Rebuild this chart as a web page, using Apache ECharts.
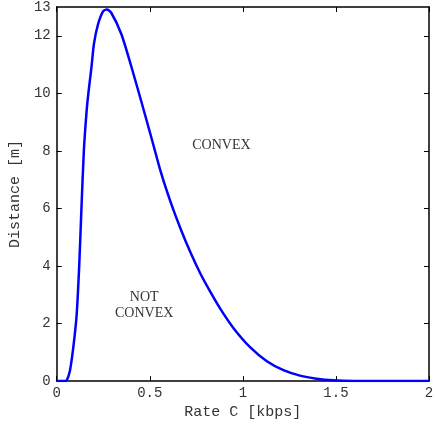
<!DOCTYPE html>
<html>
<head>
<meta charset="utf-8">
<script src="https://cdn.jsdelivr.net/npm/echarts@6/dist/echarts.min.js"></script>
<style>html,body{margin:0;padding:0;background:#fff}#c{width:438px;height:425px}</style>
</head>
<body>
<div id="c"></div>
<script>
// Data
var rateC = [0, 0.04, 0.053, 0.071, 0.089, 0.107, 0.121, 0.133, 0.146, 0.16, 0.17, 0.187, 0.2, 0.222, 0.249, 0.27, 0.293, 0.347, 0.4, 0.453, 0.507, 0.56, 0.613, 0.667, 0.72, 0.773, 0.827, 0.88, 0.951, 1.04, 1.129, 1.218, 1.307, 1.396, 1.484, 1.6, 2.0];
var distance = [0, 0, 0.02, 0.36, 1.16, 2.29, 4.02, 6.02, 8.02, 9.33, 10.0, 10.92, 11.72, 12.4, 12.85, 12.91, 12.8, 12.06, 10.95, 9.75, 8.5, 7.25, 6.2, 5.27, 4.45, 3.72, 3.08, 2.5, 1.83, 1.17, 0.69, 0.38, 0.19, 0.085, 0.03, 0.005, 0];
var xTicks = [0, 0.5, 1, 1.5, 2];
var yTicks = [0, 2, 4, 6, 8, 10, 12];
var yLabels = [0, 2, 4, 6, 8, 10, 12, 13];
var xName = 'Rate C [kbps]';
var yName = 'Distance [m]';
var regionLabels = ['CONVEX', 'NOT\nCONVEX'];
var regionAt = [[0.885, 8.2], [0.47, 2.65]];

var chart = echarts.init(document.getElementById('c'));
var mono = 'Liberation Mono';
var txt = '#333';
var pts = rateC.map(function (x, i) { return [x, distance[i]]; });
function fmt(v) { return String(v); }

chart.setOption({
  animation: false,
  grid: { left: 55, right: 9, top: 6, bottom: 38, containLabel: false },
  xAxis: [{
    type: 'value', min: 0, max: 2, interval: 0.5,
    name: xName, nameLocation: 'middle', nameGap: 23,
    nameTextStyle: { fontFamily: mono, fontSize: 15, color: txt },
    axisLine: { show: true, onZero: false, lineStyle: { color: '#000', width: 1.5 } },
    axisTick: { show: true, inside: true, length: 5, customValues: xTicks, lineStyle: { color: '#000' } },
    axisLabel: { fontFamily: mono, fontSize: 14, color: txt, margin: 5, customValues: xTicks, formatter: fmt },
    splitLine: { show: false }
  }, {
    type: 'value', min: 0, max: 2, interval: 0.5, position: 'top',
    axisLine: { show: true, onZero: false, lineStyle: { color: '#000', width: 1.5 } },
    axisTick: { show: true, inside: true, length: 5, customValues: xTicks, lineStyle: { color: '#000' } },
    axisLabel: { show: false },
    splitLine: { show: false }
  }],
  yAxis: [{
    type: 'value', min: 0, max: 13,
    name: yName, nameLocation: 'middle', nameGap: 27, nameRotate: 90,
    nameTextStyle: { fontFamily: mono, fontSize: 15, color: txt },
    axisLine: { show: true, onZero: false, lineStyle: { color: '#000', width: 1.5 } },
    axisTick: { show: true, inside: true, length: 5, customValues: yTicks, lineStyle: { color: '#000' } },
    axisLabel: { fontFamily: mono, fontSize: 14, color: txt, margin: 6, customValues: yLabels, formatter: fmt },
    splitLine: { show: false }
  }, {
    type: 'value', min: 0, max: 13, position: 'right',
    axisLine: { show: true, onZero: false, lineStyle: { color: '#000', width: 1.5 } },
    axisTick: { show: true, inside: true, length: 5, customValues: yTicks, lineStyle: { color: '#000' } },
    axisLabel: { show: false },
    splitLine: { show: false }
  }],
  series: [{
    type: 'line', data: pts, xAxisIndex: 0, yAxisIndex: 0,
    showSymbol: false, smooth: 0.25,
    lineStyle: { color: '#0000ff', width: 2.5 }
  }]
});

var g = regionLabels.map(function (t, i) {
  var p = chart.convertToPixel({ xAxisIndex: 0, yAxisIndex: 0 }, regionAt[i]);
  return {
    type: 'text', x: p[0], y: p[1],
    style: { text: t, fontFamily: 'Liberation Serif', fontSize: 14, fill: txt,
             align: 'center', verticalAlign: 'middle', lineHeight: 16 }
  };
});
chart.setOption({ graphic: g });
</script>
</body>
</html>
